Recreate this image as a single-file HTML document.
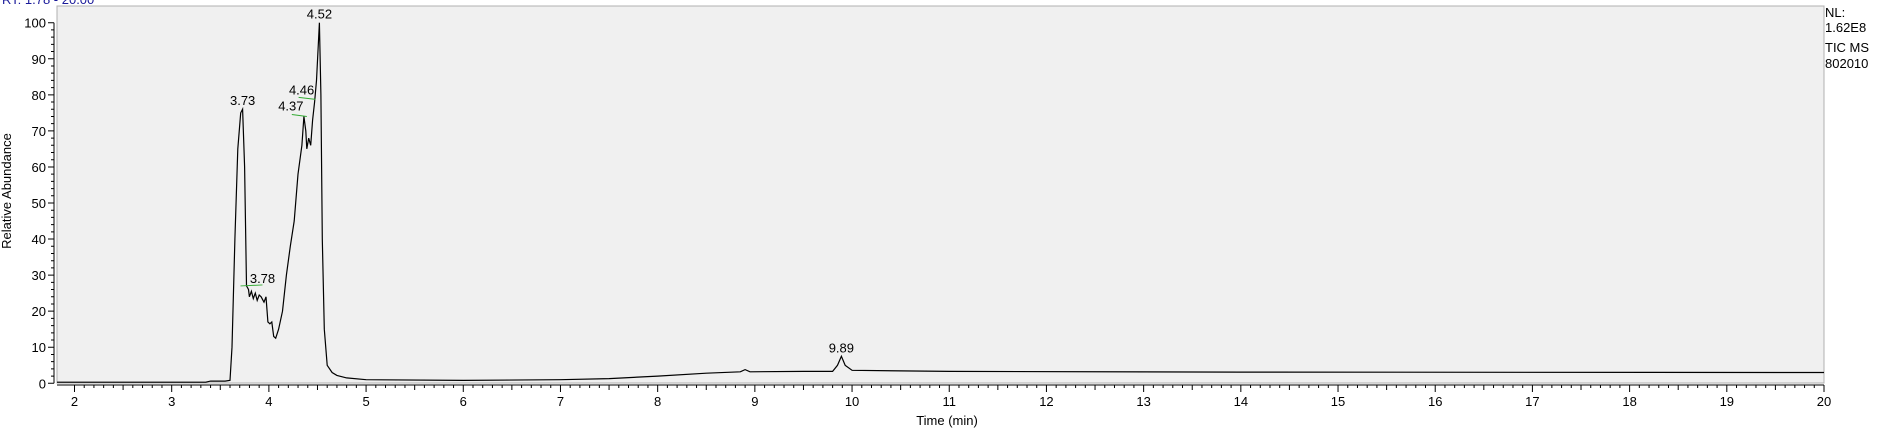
<!DOCTYPE html>
<html><head><meta charset="utf-8"><style>
body{margin:0;background:#fff;width:1878px;height:432px;overflow:hidden;font-family:"Liberation Sans",Arial,sans-serif}
svg text{font-family:"Liberation Sans",Arial,sans-serif}
</style></head><body>
<svg id="chart" width="1878" height="432" xmlns="http://www.w3.org/2000/svg">
<text x="2" y="4" font-size="13" fill="#1a1a9a">RT: 1.78 - 20.00</text>
<rect x="57" y="6" width="1767" height="377" fill="#f0f0f0" stroke="#b0b0b0"/>
<g id="axes"></g>
<path id="trace" fill="none" stroke="#000" stroke-width="1.2"/>
<g id="peaks"></g>
<text x="20" y="200" font-size="13" text-anchor="middle" transform="rotate(-90 11 200)">Relative Abundance</text>
<text x="947" y="425" font-size="13" text-anchor="middle">Time (min)</text>
<g font-size="13">
<text x="1825" y="17">NL:</text><text x="1825" y="32">1.62E8</text>
<text x="1825" y="52">TIC  MS</text><text x="1825" y="68">802010</text></g>
</svg>
<script>
const times=[1.82,3.35,3.4,3.55,3.6,3.62,3.65,3.68,3.71,3.73,3.75,3.77,3.79,3.8,3.82,3.84,3.86,3.88,3.9,3.92,3.95,3.97,3.99,4.01,4.03,4.05,4.07,4.1,4.14,4.18,4.22,4.26,4.3,4.34,4.36,4.38,4.39,4.41,4.43,4.45,4.47,4.49,4.51,4.52,4.535,4.55,4.57,4.6,4.65,4.7,4.8,5,6,7,7.5,8,8.5,8.85,8.9,8.95,9.5,9.8,9.85,9.89,9.93,10,11,14,20];
const abundance=[0.3,0.3,0.6,0.6,0.8,10,40,65,75,76,60,27,26,24,25.5,23.5,25,23,24.5,24,22.5,24,17,16.5,17,13,12.5,15,20,30,38,45,58,66,74,70,65,68,66,73,78,84,95,100,80,40,15,5,3,2.2,1.5,1,0.8,1,1.3,2,2.8,3.2,3.8,3.2,3.3,3.3,5,7.5,5,3.6,3.3,3.1,3.0];
const peakTimes=[3.73,3.78,4.37,4.46,4.52,9.89];
const peakValues=[76,27,74,79,100,7.5];
const peakLabels=["3.73","3.78","4.37","4.46","4.52","9.89"];
const xTicks=[2,3,4,5,6,7,8,9,10,11,12,13,14,15,16,17,18,19,20];
const yTicks=[0,10,20,30,40,50,60,70,80,90,100];
const X0=1.82,X1=20,PX0=57,PX1=1824,Y0=383.3,Y100=22.7;
const sx=t=>PX0+(t-X0)/(X1-X0)*(PX1-PX0);
const sy=v=>Y0+(Y100-Y0)*v/100;
const NS="http://www.w3.org/2000/svg";
const ax=document.getElementById('axes');
function mk(tag,attrs,parent){const e=document.createElementNS(NS,tag);for(const k in attrs)e.setAttribute(k,attrs[k]);parent.appendChild(e);return e;}
let d="M"+PX0+" 385H"+PX1+"M54 "+Y0+"V"+Y100;
for(let t=2;t<=20.001;t+=0.1){const x=sx(t);const major=Math.abs(t-Math.round(t))<0.01;const half=Math.abs(t*2-Math.round(t*2))<0.01;d+="M"+x+" 385v"+(major?7:(half?5:3));}
for(let v=0;v<=100;v+=2){const y=sy(v);d+="M54 "+y+"h"+(v%10===0?-6:-3);}
const axp=mk('path',{d:d,stroke:'#000','stroke-width':1,fill:'none'},ax);


xTicks.forEach(t=>{const e=mk('text',{x:sx(t),y:406,'font-size':13,'text-anchor':'middle'},ax);e.textContent=t;

});
yTicks.forEach(v=>{const e=mk('text',{x:46,y:sy(v)+5,'font-size':13,'text-anchor':'end'},ax);e.textContent=v;

});
document.getElementById('trace').setAttribute('d',times.map((t,i)=>(i?'L':'M')+sx(t).toFixed(1)+' '+sy(abundance[i]).toFixed(1)).join(''));
const pg=document.getElementById('peaks');
peakTimes.forEach((t,i)=>{const x=sx(t),y=sy(peakValues[i]);
let lx=x,ly=y-4;
if(i===1){lx=x+15;ly=y-3;const l=mk('line',{x1:x-7,y1:y,x2:x+15,y2:y-1,stroke:'#3a3',},pg);}
if(i===2){lx=x-14;ly=y-6;const l=mk('line',{x1:x-13,y1:y-2,x2:x+2,y2:y,stroke:'#3a3'},pg);}
if(i===3){lx=x-12;ly=y-4;const l=mk('line',{x1:x-15,y1:y-1,x2:x+2,y2:y+1,stroke:'#3a3'},pg);}
const e=mk('text',{x:lx,y:ly,'font-size':13,'text-anchor':'middle'},pg);e.textContent=peakLabels[i];

});
</script>
</body></html>
